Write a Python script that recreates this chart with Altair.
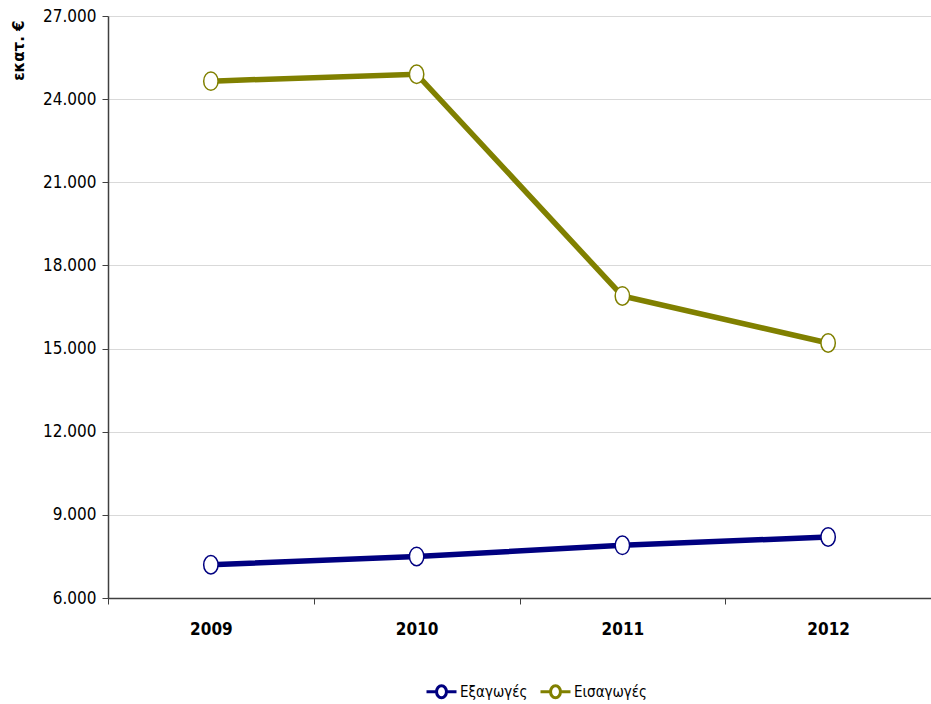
import altair as alt
import pandas as pd

years = ["2009", "2010", "2011", "2012"]
exports = [7200, 7500, 7900, 8200]
imports = [24650, 24900, 16900, 15200]
series_names = ["Εξαγωγές", "Εισαγωγές"]
colors = ["#000080", "#808000"]
y_ticks = [6000, 9000, 12000, 15000, 18000, 21000, 24000, 27000]

rows = []
for y, v in zip(years, exports):
    rows.append({"year": y, "value": v, "series": series_names[0]})
for y, v in zip(years, imports):
    rows.append({"year": y, "value": v, "series": series_names[1]})
df = pd.DataFrame(rows)

FONT = "DejaVu Sans Condensed, sans-serif"

legend_path = ("M-1,0L-0.33,0M0.33,0L1,0M-0.33,0A0.33,0.4,0,1,1,0.33,0"
               "A0.33,0.4,0,1,1,-0.33,0Z")
ellipse = "M0,-1A0.78,1,0,1,1,0,1A0.78,1,0,1,1,0,-1Z"

x_enc = alt.X("year:O", sort=years,
              scale=alt.Scale(paddingInner=0, paddingOuter=0),
              axis=alt.Axis(title=None, labelAngle=0, labelFont=FONT,
                            labelFontSize=17, labelFontWeight="bold",
                            labelColor="#000000", labelPadding=17,
                            domainColor="#404040", domainWidth=1.5,
                            tickColor="#404040", tickSize=6,
                            tickBand="extent", grid=False))
y_enc = alt.Y("value:Q",
              scale=alt.Scale(domain=[6000, 27000], nice=False, zero=False),
              axis=alt.Axis(title="εκατ. €", values=y_ticks, format=",.0f",
                            labelExpr="replace(datum.label, ',', '.')",
                            labelFont=FONT, labelFontSize=17,
                            labelColor="#000000", labelPadding=6,
                            domainColor="#404040", domainWidth=1.5,
                            tickColor="#404040", tickSize=6,
                            gridColor="#d9d9d9", gridWidth=1,
                            titleFont="DejaVu Sans", titleFontSize=15,
                            titleFontWeight="bold", titleColor="#000000",
                            titleAngle=270, titleAlign="right",
                            titleBaseline="middle",
                            titleX=-90, titleY=4))
color_enc = alt.Color("series:N",
                      scale=alt.Scale(domain=series_names, range=colors),
                      legend=alt.Legend(title=None, orient="none",
                                        legendX=317, legendY=659,
                                        direction="horizontal",
                                        symbolType=legend_path,
                                        symbolSize=900,
                                        symbolStrokeWidth=3,
                                        symbolFillColor="white",
                                        labelFont=FONT, labelFontSize=15,
                                        labelColor="#000000",
                                        labelOffset=2,
                                        columnPadding=6))

base = alt.Chart(df)
lines = base.mark_line(strokeWidth=5.5).encode(x=x_enc, y=y_enc, color=color_enc)
points = base.mark_point(shape=ellipse, size=340, filled=True, fill="white",
                         strokeWidth=1.5, opacity=1).encode(
    x=x_enc, y=y_enc,
    stroke=alt.Stroke("series:N",
                      scale=alt.Scale(domain=series_names, range=colors),
                      legend=None))

chart = (lines + points).properties(
    width=823, height=582,
    padding={"left": 108, "top": 16, "right": 0, "bottom": 106},
    autosize=alt.AutoSizeParams(type="none"),
    background="white",
).configure_view(stroke=None)

chart.save("out.html", embed_options={"renderer": "svg", "actions": False})
